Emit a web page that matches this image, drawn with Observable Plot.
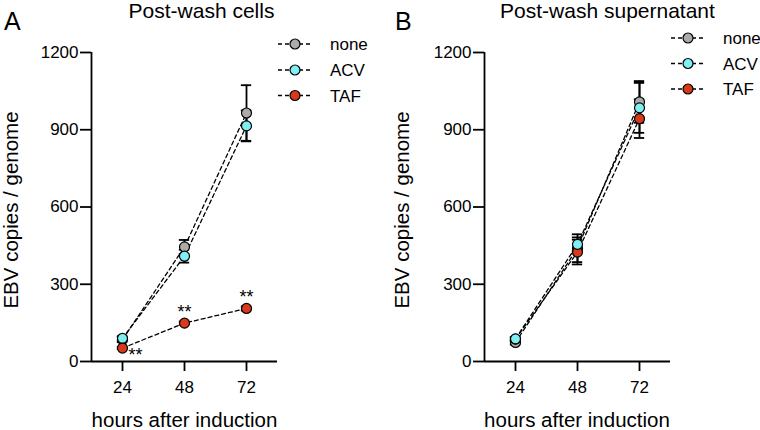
<!DOCTYPE html>
<html><head><meta charset="utf-8">
<script src="https://cdn.jsdelivr.net/npm/d3@7"></script>
<script src="https://cdn.jsdelivr.net/npm/@observablehq/plot@0.6"></script>
<style>
body{margin:0;background:#fff;}
#wrap{position:relative;width:760px;height:430px;overflow:hidden;font-family:"Liberation Sans",Arial,sans-serif;color:#000;}
.panel{position:absolute;top:0;width:380px;height:430px;}
#over{position:absolute;left:0;top:0;pointer-events:none;}
</style></head><body>
<div id="wrap"><div class="panel" id="pA" style="left:0"></div><div class="panel" id="pB" style="left:380px"></div></div>
<script>
// ---- data ----
const hours = [24, 48, 72];
const seriesNames = ["none", "ACV", "TAF"];
const seriesColors = ["#ababab", "#7feff3", "#d8391a"];
const yTicks = [0, 300, 600, 900, 1200];
const xDomain = [12, 84];
const yDomain = [0, 1200];

// Panel A: post-wash cells
const cellsNone = [85, 445, 965];
const cellsNoneErr = [10, 27, 108];
const cellsACV = [90, 409, 915];
const cellsACVErr = [8, 25, 60];
const cellsTAF = [52, 149, 206];
const cellsTAFErr = [4, 6, 8];
const cellsStars = ["**", "**", "**"];

// Panel B: post-wash supernatant
const supNone = [74, 440, 1008];
const supNoneErr = [8, 54, 81];
const supACV = [88, 455, 985];
const supACVErr = [6, 27, 97];
const supTAF = [87, 425, 943];
const supTAFErr = [6, 48, 75];

const titles = ["Post-wash cells", "Post-wash supernatant"];
const letters = ["A", "B"];
const yLabel = "EBV copies / genome";
const xLabel = "hours after induction";

// ---- build ----
function rowsOf(list) {
  const out = [];
  for (const [name, vals, errs] of list)
    hours.forEach((h, i) => out.push({series: name, hour: h, value: vals[i], err: errs[i]}));
  return out;
}
const rowsA = rowsOf([["none", cellsNone, cellsNoneErr], ["ACV", cellsACV, cellsACVErr], ["TAF", cellsTAF, cellsTAFErr]]);
const rowsB = rowsOf([["none", supNone, supNoneErr], ["TAF", supTAF, supTAFErr], ["ACV", supACV, supACVErr]]);
const starsA = hours.map((h, i) => ({hour: h, value: cellsTAF[i], label: cellsStars[i]}));

const font = "Liberation Sans, Arial, sans-serif";

function panel(rows, ml, mr, extra) {
  return Plot.plot({
    width: 380, height: 430,
    marginLeft: ml, marginRight: mr, marginTop: 52, marginBottom: 69,
    style: {fontFamily: font, fontSize: "17px", color: "#000", background: "transparent", overflow: "visible"},
    x: {domain: xDomain},
    y: {domain: yDomain},
    color: {domain: seriesNames, range: seriesColors},
    marks: [
      Plot.axisX({ticks: hours, tickSize: 10, tickPadding: 9, strokeWidth: 1.8, label: null, tickFormat: d3.format("d")}),
      Plot.axisY({ticks: yTicks, tickSize: 11, tickPadding: 2, strokeWidth: 1.8, label: null, tickFormat: d3.format("d")}),
      Plot.ruleX([xDomain[0]], {y1: yDomain[0], y2: yDomain[1], strokeWidth: 1.8}),
      Plot.ruleY([yDomain[0]], {x1: xDomain[0], x2: xDomain[1], strokeWidth: 1.8}),
      Plot.line(rows, {x: "hour", y: "value", z: "series", stroke: "#000", strokeWidth: 1.3, strokeDasharray: "4,3"}),
      Plot.ruleX(rows, {x: "hour", y1: d => d.value - d.err, y2: d => d.value + d.err, strokeWidth: 1.8}),
      Plot.ruleY(rows, {y: d => d.value + d.err, x1: d => d.hour - 2, x2: d => d.hour + 2, strokeWidth: 1.8}),
      Plot.ruleY(rows, {y: d => d.value - d.err, x1: d => d.hour - 2, x2: d => d.hour + 2, strokeWidth: 1.8}),
      Plot.dot(rows, {x: "hour", y: "value", fill: "series", stroke: "#000", strokeWidth: 1.2, r: 5}),
      ...extra
    ]
  });
}

const starMarks = [
  Plot.text(starsA.filter((d, i) => i === 0), {x: "hour", y: "value", text: "label", dx: 13, dy: 7, fontSize: 18}),
  Plot.text(starsA.filter((d, i) => i > 0), {x: "hour", y: "value", text: "label", dy: -11, fontSize: 18})
];

document.getElementById("pA").appendChild(panel(rowsA, 91, 103, starMarks));
document.getElementById("pB").appendChild(panel(rowsB, 104, 90, []));

// ---- overlay text & legends ----
const NS = "http://www.w3.org/2000/svg";
const over = document.createElementNS(NS, "svg");
over.setAttribute("id", "over");
over.setAttribute("width", 760);
over.setAttribute("height", 430);
over.setAttribute("font-family", font);
document.getElementById("wrap").appendChild(over);
function txt(s, x, y, size, anchor, rot) {
  const t = document.createElementNS(NS, "text");
  t.textContent = s;
  t.setAttribute("font-size", size);
  t.setAttribute("text-anchor", anchor || "start");
  if (rot) { t.setAttribute("transform", `translate(${x},${y}) rotate(-90)`); }
  else { t.setAttribute("x", x); t.setAttribute("y", y); }
  over.appendChild(t);
  return t;
}
const layout = [
  {title: 201.5, letter: 4, ylab: 18, xlab: 184.5, legX: 295, legRows: [44, 70, 95.5]},
  {title: 607.5, letter: 395, ylab: 409, xlab: 577, legX: 688, legRows: [38, 63.5, 89]}
];
layout.forEach((L, p) => {
  txt(titles[p], L.title, 18, 21, "middle");
  txt(letters[p], L.letter, 30, 25, "start");
  txt(yLabel, L.ylab, 210, 20.5, "middle", true);
  txt(xLabel, L.xlab, 427, 20.5, "middle");
  seriesNames.forEach((name, i) => {
    const y = L.legRows[i];
    const ln = document.createElementNS(NS, "line");
    ln.setAttribute("x1", L.legX - 17); ln.setAttribute("x2", L.legX + 18);
    ln.setAttribute("y1", y); ln.setAttribute("y2", y);
    ln.setAttribute("stroke", "#000"); ln.setAttribute("stroke-width", 1.3);
    ln.setAttribute("stroke-dasharray", "4,3");
    over.appendChild(ln);
    const c = document.createElementNS(NS, "circle");
    c.setAttribute("cx", L.legX); c.setAttribute("cy", y); c.setAttribute("r", 5);
    c.setAttribute("fill", seriesColors[i]); c.setAttribute("stroke", "#000"); c.setAttribute("stroke-width", 1.2);
    over.appendChild(c);
    txt(name, L.legX + 35, y + 6, 17, "start");
  });
});
</script>
</body></html>
